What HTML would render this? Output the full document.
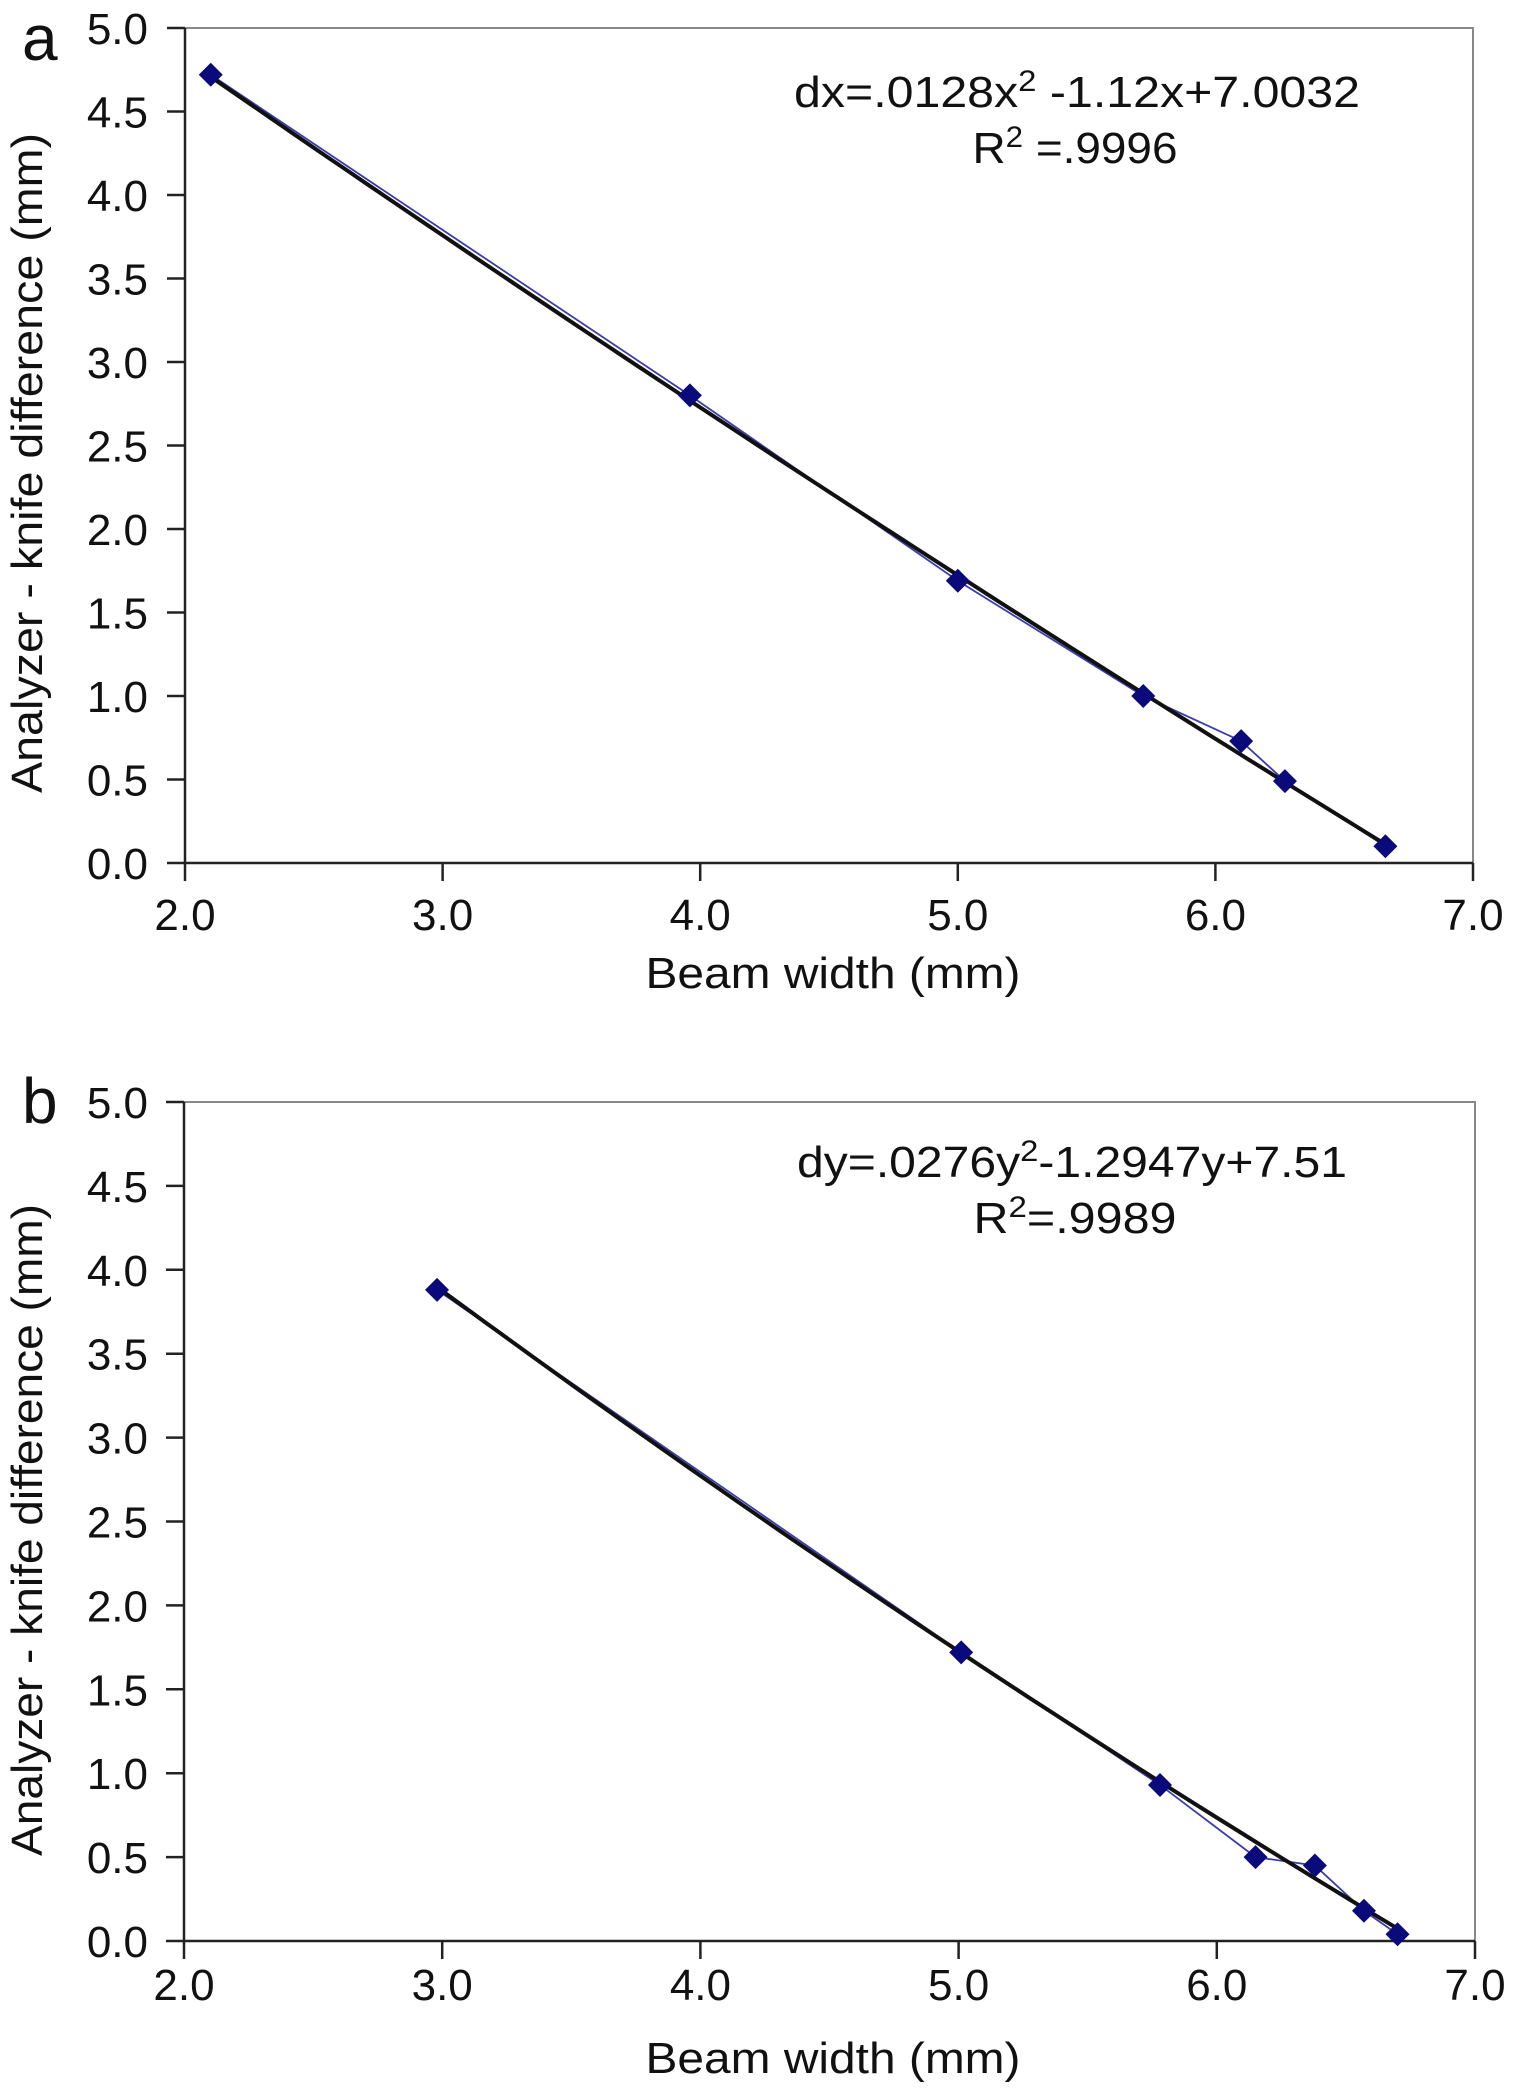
<!DOCTYPE html>
<html><head><meta charset="utf-8"><style>
html,body{margin:0;padding:0;background:#fff}
svg{display:block;font-family:"Liberation Sans",Arial,sans-serif}
</style></head><body>
<svg id="fig" width="1516" height="2097" viewBox="0 0 1516 2097"></svg>
<script>
const xTicks=[2.0,3.0,4.0,5.0,6.0,7.0];
const yTicks=[0.0,0.5,1.0,1.5,2.0,2.5,3.0,3.5,4.0,4.5,5.0];
const aX=[2.1,3.96,5.0,5.72,6.1,6.27,6.66];
const aY=[4.72,2.8,1.69,1.0,0.73,0.49,0.1];
const bX=[2.98,5.01,5.78,6.15,6.38,6.57,6.7];
const bY=[3.88,1.72,0.93,0.5,0.45,0.18,0.04];
const aCoef=[0.0128,-1.12,7.0032];
const bCoef=[0.0276,-1.2947,7.51];
const NS='http://www.w3.org/2000/svg';
const svg=document.getElementById('fig');
function mk(tag,attrs,parent,text){const e=document.createElementNS(NS,tag);for(const k in attrs)e.setAttribute(k,attrs[k]);if(text!==undefined)e.textContent=text;(parent||svg).appendChild(e);return e;}
function panel(p){
  const g=mk('g',{});
  
  
  const sx=v=>p.L+(v-2)*(p.R-p.L)/5;
  const sy=v=>p.B-v*(p.B-p.T)/5;
  const fr=mk('rect',{x:p.L,y:p.T,width:p.R-p.L,height:p.B-p.T,fill:'none',stroke:'#888','stroke-width':2},g);
  
  
  const ya=mk('line',{x1:p.L,y1:p.T,x2:p.L,y2:p.B,stroke:'#222','stroke-width':2.5},g);
  
  
  const xa=mk('line',{x1:p.L,y1:p.B,x2:p.R,y2:p.B,stroke:'#222','stroke-width':2.5},g);
  
  
  yTicks.forEach(v=>{
    mk('line',{x1:p.L-18,y1:sy(v),x2:p.L,y2:sy(v),stroke:'#222','stroke-width':2.5},g);
    const t=mk('text',{x:148,y:sy(v)+16,'text-anchor':'end','font-size':44,fill:'#111'},g,v.toFixed(1));
    
    
  });
  xTicks.forEach(v=>{
    mk('line',{x1:sx(v),y1:p.B,x2:sx(v),y2:p.B+18,stroke:'#222','stroke-width':2.5},g);
    const t=mk('text',{x:sx(v),y:p.B+p.xtk,'text-anchor':'middle','font-size':44,fill:'#111'},g,v.toFixed(1));
    
    
  });
  const xt=mk('text',{x:833,y:p.xtY,'text-anchor':'middle','font-size':44,fill:'#111',textLength:375,lengthAdjust:'spacingAndGlyphs'},g,'Beam width (mm)');
  
  
  const yt=mk('text',{x:0,y:0,'text-anchor':'middle','font-size':44,fill:'#111',textLength:p.ytL,lengthAdjust:'spacingAndGlyphs',transform:`translate(42,${p.ytC}) rotate(-90)`},g,'Analyzer - knife difference (mm)');
  
  
  const lb=mk('text',{x:22,y:p.lbY,'font-size':64,fill:'#111'},g,p.id);
  
  
  const pl=mk('polyline',{points:p.xs.map((x,i)=>sx(x)+','+sy(p.ys[i])).join(' '),fill:'none',stroke:'#3b3bb0','stroke-width':1.8},g);
  
  
  const x0=p.xs[0],x1=p.xs[p.xs.length-1];let d='';
  for(let i=0;i<=60;i++){const x=x0+(x1-x0)*i/60;const y=p.c[0]*x*x+p.c[1]*x+p.c[2];d+=(i?'L':'M')+sx(x).toFixed(1)+','+sy(y).toFixed(1);}
  const tr=mk('path',{d:d,fill:'none',stroke:'#111','stroke-width':4},g);
  
  
  p.xs.forEach((x,i)=>{
    const cx=sx(x),cy=sy(p.ys[i]),s=12;
    const m=mk('polygon',{points:`${cx},${cy-s} ${cx+s},${cy} ${cx},${cy+s} ${cx-s},${cy}`,fill:'#0a0a7a'},g);
    
    
  });
  const e1=mk('text',{x:p.eqC,y:p.eqY,'text-anchor':'middle','font-size':44,fill:'#111',textLength:p.eqW,lengthAdjust:'spacingAndGlyphs'},g);
  
  
  p.eq(e1);
  const e2=mk('text',{x:p.r2C,y:p.eqY+56,'text-anchor':'middle','font-size':44,fill:'#111',textLength:p.r2W,lengthAdjust:'spacingAndGlyphs'},g);
  
  
  e2.innerHTML=p.r2;
}
panel({id:'a',L:185,R:1473,T:28,B:863,xtk:67,xtY:988,ytC:463,ytL:660,lbY:60,eqY:107,eqC:1077,eqW:566,r2C:1075,r2W:205,xs:aX,ys:aY,c:aCoef,
  eq:e=>{e.innerHTML='dx=.0128x<tspan dy="-16" font-size="30">2</tspan><tspan dy="16"> -1.12x+7.0032</tspan>';},
  r2:'R<tspan dy="-16" font-size="30">2</tspan><tspan dy="16"> =.9996</tspan>'});
panel({id:'b',L:184,R:1475,T:1102,B:1941,xtk:59,xtY:2073,ytC:1530,ytL:652,lbY:1123,eqY:1177,eqC:1072,eqW:550,r2C:1075,r2W:203,xs:bX,ys:bY,c:bCoef,
  eq:e=>{e.innerHTML='dy=.0276y<tspan dy="-16" font-size="30">2</tspan><tspan dy="16">-1.2947y+7.51</tspan>';},
  r2:'R<tspan dy="-16" font-size="30">2</tspan><tspan dy="16">=.9989</tspan>'});
</script>
</body></html>
